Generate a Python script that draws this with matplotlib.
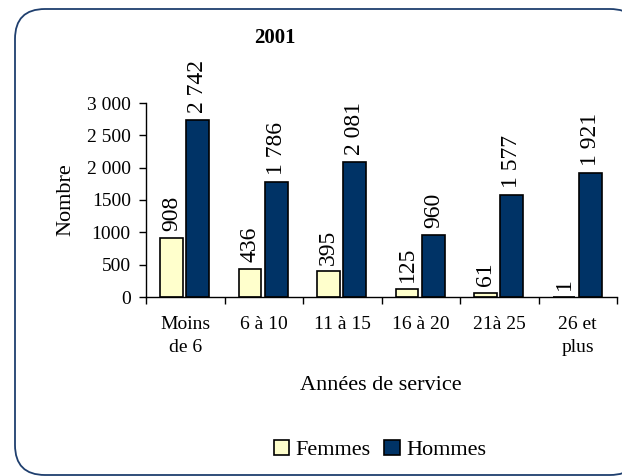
import matplotlib
matplotlib.use("Agg")
import matplotlib.pyplot as plt
import numpy as np
from matplotlib.patches import FancyBboxPatch, Patch
from matplotlib.transforms import IdentityTransform

categories = ["Moins\nde 6", "6 à 10", "11 à 15", "16 à 20", "21à 25", "26 et\nplus"]
femmes = [908, 436, 395, 125, 61, 1]
hommes = [2742, 1786, 2081, 960, 1577, 1921]
femmes_labels = ["908", "436", "395", "125", "61", "1"]
hommes_labels = ["2 742", "1 786", "2 081", "960", "1 577", "1 921"]
yticks = [0, 500, 1000, 1500, 2000, 2500, 3000]
ytick_labels = ["0", "500", "1000", "1500", "2 000", "2 500", "3 000"]

SERIF = ['Liberation Serif', 'DejaVu Serif']
plt.rcParams['font.family'] = SERIF

W, H = 622, 476
fig = plt.figure(figsize=(W / 100, H / 100), dpi=100)

# rounded frame (pixel coordinates, origin bottom-left)
frame = FancyBboxPatch((15, 1), 625, 466,
                       boxstyle="round,pad=0,rounding_size=30",
                       transform=IdentityTransform(), facecolor='white',
                       edgecolor='#1F3F6E', lw=1.3, zorder=-5)
fig.patches.append(frame)

ax = fig.add_axes([146 / W, 1 - 297 / H, (617 - 146) / W, 194 / H])
ax.set_facecolor('none')
x = np.arange(len(categories))
bw = 0.29
ax.bar(x - 0.175, femmes, bw, color='#FFFFCC', edgecolor='black', lw=1.2, label='Femmes')
ax.bar(x + 0.16, hommes, bw, color='#003366', edgecolor='black', lw=1.2, label='Hommes')

for xi, v, lab in zip(x, femmes, femmes_labels):
    ax.annotate(lab, (xi - 0.175, v), xytext=(0, 5), textcoords='offset points',
                rotation=90, ha='center', va='bottom', fontsize=17, family=SERIF,
                annotation_clip=False)
for xi, v, lab in zip(x, hommes, hommes_labels):
    ax.annotate(lab, (xi + 0.16, v), xytext=(0, 5), textcoords='offset points',
                rotation=90, ha='center', va='bottom', fontsize=17, family=SERIF,
                annotation_clip=False)

ax.set_xlim(-0.5, len(categories) - 0.5)
ax.set_ylim(0, 3000)
ax.set_yticks(yticks)
ax.set_yticklabels(ytick_labels, fontsize=14)
ax.set_xticks(x)
ax.set_xticklabels(categories, fontsize=14, linespacing=1.45)
ax.set_xticks(np.arange(-0.5, len(categories), 1), minor=True)
ax.tick_params(axis='x', which='major', length=0, pad=14)
ax.tick_params(axis='x', which='minor', length=5, direction='out', width=1)
ax.tick_params(axis='y', length=5, direction='out', width=1, pad=6)
for s in ['top', 'right']:
    ax.spines[s].set_visible(False)
for s in ['left', 'bottom']:
    ax.spines[s].set_linewidth(1)

ax.set_ylabel("Nombre", fontsize=16, labelpad=8)
fig.text(381 / W, 1 - 385 / H, "Années de service", ha='center', va='center', fontsize=16)
fig.text(275 / W, 1 - 38 / H, "2001", ha='center', va='center', fontsize=15, fontweight='bold')

handles = [Patch(facecolor='#FFFFCC', edgecolor='black', lw=1.2),
           Patch(facecolor='#003366', edgecolor='black', lw=1.2)]
fig.legend(handles, ["Femmes", "Hommes"], loc='center', bbox_to_anchor=(380 / W, 1 - 450 / H),
           ncol=2, frameon=False, fontsize=16, handlelength=0.7, handleheight=0.7,
           handletextpad=0.3, columnspacing=0.6)

fig.savefig("out.png", dpi=100)
